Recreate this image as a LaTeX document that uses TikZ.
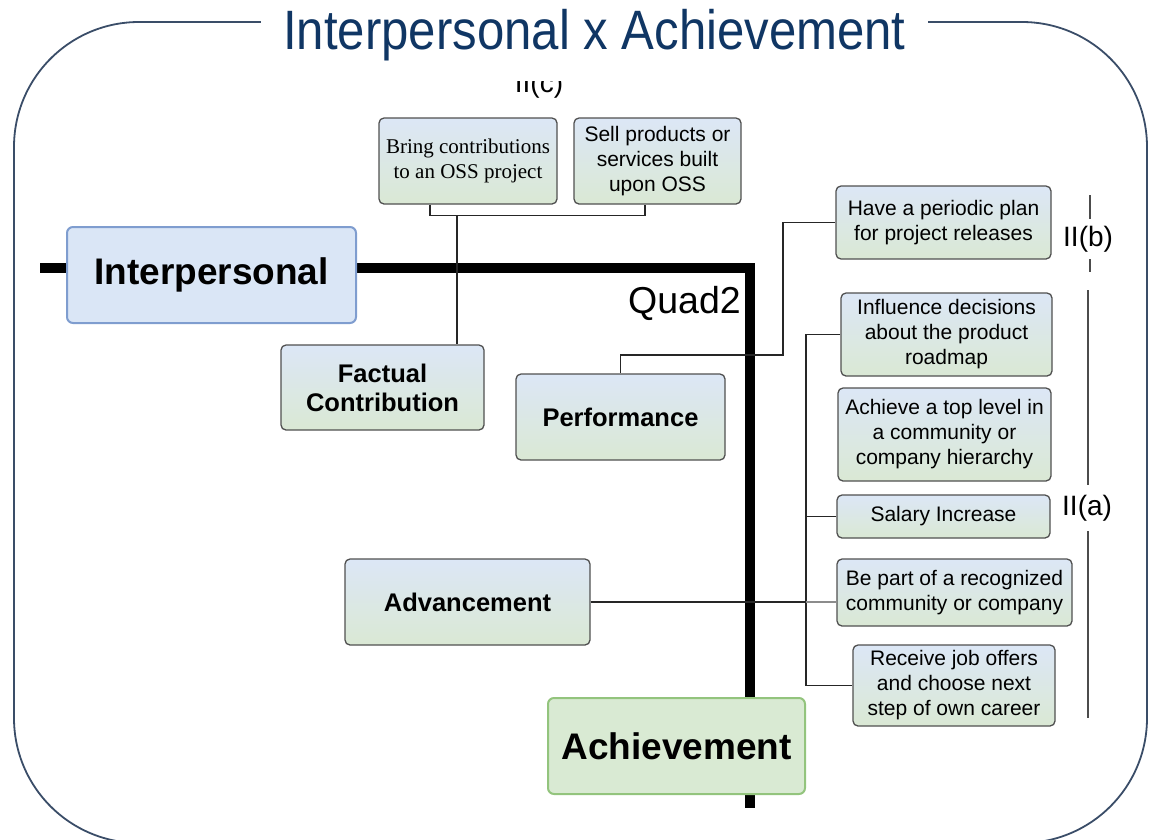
\documentclass[tikz,border=0pt]{standalone}
\usepackage{fontspec}
\setmainfont{Liberation Sans}
\newfontfamily\serifface{Liberation Serif}
\usepackage{xcolor}
\usepackage{tikz}

\definecolor{framecol}{RGB}{58,77,104}
\definecolor{titlecol}{RGB}{16,54,100}
\definecolor{leaftop}{RGB}{220,231,246}
\definecolor{leafbot}{RGB}{218,232,212}
\definecolor{leafline}{RGB}{80,80,80}
\definecolor{iperfill}{RGB}{218,230,246}
\definecolor{iperline}{RGB}{127,157,207}
\definecolor{achvfill}{RGB}{217,234,211}
\definecolor{achvline}{RGB}{147,196,125}

\begin{document}
\begin{tikzpicture}[x=1pt,y=-1pt,
                leaf/.style={draw=leafline, line width=1.3pt, rounded corners=5pt, top color=leaftop, bottom color=leafbot, align=center, inner sep=0pt, font=\fontsize{21}{25}\selectfont},
                facet/.style={leaf, font=\fontsize{25.5}{29}\selectfont\bfseries},
                pole/.style={line width=2pt, rounded corners=6pt, inner sep=0pt, font=\fontsize{37}{44}\selectfont\bfseries},
                wire/.style={line width=1.3pt, black!85},
                tag/.style={font=\fontsize{28}{32}\selectfont, inner sep=0pt}]
                \useasboundingbox (0,0) rectangle (1149,839);
                \clip (0,0) rectangle (1149,839);
                \draw[framecol, line width=1.8pt, rounded corners=125pt] (14,22) rectangle (1147,843);
                \node[fill=white, inner xsep=22pt, inner ysep=4pt, anchor=base, text=titlecol, font=\fontsize{55.5}{60}\selectfont] (title) at (594.5,49) {\scalebox{0.885}[1]{Interpersonal x Achievement}};
                \coordinate (axl) at (40,268);
                \coordinate (axc) at (750,268);
                \coordinate (axb) at (750,808);
                \draw[line width=9.5pt] (axl) -- (axc) -- (axb);
                \node[pole, fill=iperfill, draw=iperline, minimum width=289pt, minimum height=96pt] (iper) at (211.5,275) {Interpersonal};
                \node[pole, fill=achvfill, draw=achvline, minimum width=257pt, minimum height=96pt] (achv) at (676.5,746) {Achievement};
                \node[leaf, minimum width=178pt, minimum height=86pt, font=\serifface\fontsize{21}{25}\selectfont] (bring) at (468,161) {Bring contributions\\to an OSS project};
                \node[leaf, minimum width=167pt, minimum height=86pt] (sell) at (657.5,161) {Sell products or\\services built\\upon OSS};
                \node[facet, minimum width=203pt, minimum height=85pt] (fact) at (382.5,387.5) {Factual\\Contribution};
                \node[facet, minimum width=209pt, minimum height=86pt] (perf) at (620.5,417) {Performance};
                \node[facet, minimum width=245pt, minimum height=86pt] (adv) at (467.5,602) {Advancement};
                \node[leaf, minimum width=215pt, minimum height=73pt] (plan) at (943.5,222.5) {Have a periodic plan\\for project releases};
                \node[leaf, minimum width=211pt, minimum height=83pt] (infl) at (946.5,334.5) {Influence decisions\\about the product\\roadmap};
                \node[leaf, minimum width=213pt, minimum height=93pt] (rank) at (944.5,434.5) {Achieve a top level in\\a community or\\company hierarchy};
                \node[leaf, minimum width=213pt, minimum height=43pt] (sal) at (943.5,516.5) {Salary Increase};
                \node[leaf, minimum width=235pt, minimum height=67pt] (part) at (954.5,592.5) {Be part of a recognized\\community or company};
                \node[leaf, minimum width=202pt, minimum height=81pt] (recv) at (954,685.5) {Receive job offers\\and choose next\\step of own career};
                \draw[wire] ([xshift=-38pt]bring.south) -- ++(0,11) -| ([xshift=-12.5pt]sell.south);
                \coordinate (cjoin) at (457,215);
                \draw[wire] (cjoin) -- (cjoin |- fact.north);
                \coordinate (pbend) at (783,355);
                \draw[wire] (perf.north) |- (pbend) |- (plan.west);
                \coordinate (bus) at (806,0);
                \draw[wire] (infl.west) -- (infl.west -| bus) -- (recv.west -| bus) -- (recv.west);
                \draw[wire] (sal.west) -- (sal.west -| bus);
                \draw[wire] (adv.east) -- (adv.east -| bus);
                \draw[wire, black!45] (adv.east -| bus) -- (adv.east -| part.west);
                \node[tag, anchor=base east, font=\fontsize{37.5}{40}\selectfont] (quad) at (741,313) {Quad2};
                \coordinate (btop) at (1090,195);
                \coordinate (bbot) at (1090,272);
                \draw[wire, black!70] (btop) -- (bbot);
                \node[tag, fill=white, inner ysep=7pt, anchor=base west] (IIb) at (1063,246) {II(b)};
                \coordinate (atop) at (1088,290);
                \coordinate (abot) at (1088,718);
                \draw[wire, black!70] (atop) -- (abot);
                \node[tag, fill=white, inner ysep=10pt, anchor=base west] (IIa) at (1062,515) {II(a)};
                \begin{scope}
                \clip (470,81) rectangle (620,110);
                \node[tag, anchor=base] (IIc) at (539,92) {II(c)};
                \end{scope}
            \end{tikzpicture}
\end{document}
